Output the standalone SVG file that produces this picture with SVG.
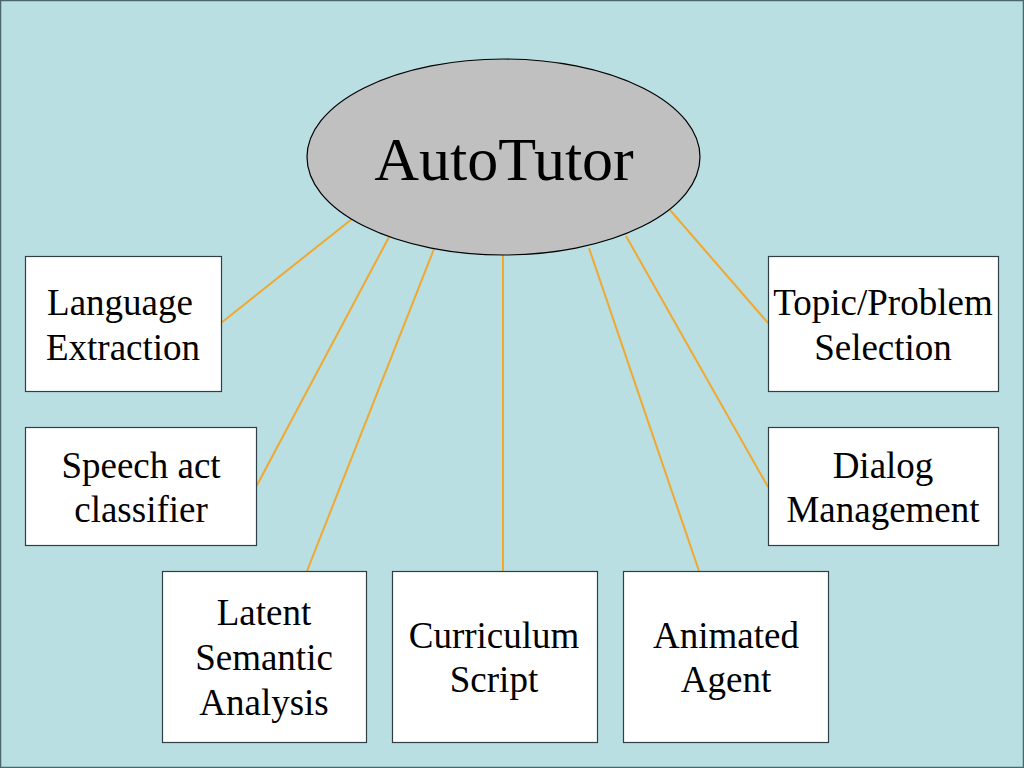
<svg xmlns="http://www.w3.org/2000/svg" width="1024" height="768" viewBox="0 0 1024 768">
<style>
.box{fill:#FFFFFF;stroke:#2F3F45;stroke-width:1.2}
.t{font-family:'Liberation Serif','Times New Roman',Times,serif;font-size:37px;fill:#000;text-anchor:middle}
.c{stroke:#F0A830;stroke-width:2;fill:none}
</style>
<rect x="0.5" y="0.5" width="1023" height="767" fill="#B9DFE2" stroke="#4A6670" stroke-width="1.5"/>
<g id="connectors">
<line class="c" x1="352" y1="219" x2="221" y2="323"/>
<line class="c" x1="389" y1="237" x2="256" y2="487"/>
<line class="c" x1="434" y1="249" x2="307" y2="571"/>
<line class="c" x1="503" y1="255" x2="503" y2="571"/>
<line class="c" x1="589" y1="248" x2="699" y2="571"/>
<line class="c" x1="626" y1="236" x2="768" y2="487"/>
<line class="c" x1="670" y1="210" x2="768" y2="323"/>
</g>
<g id="autotutor">
<ellipse cx="503.5" cy="157" rx="196.5" ry="98" fill="#C0C0C0" stroke="#000" stroke-width="1.2"/>
<text class="t" x="504" y="180" style="font-size:62px">AutoTutor</text>
</g>
<g id="language-extraction">
<rect class="box" x="25.5" y="256.5" width="196" height="135"/>
<text class="t" x="120" y="315">Language</text>
<text class="t" x="123" y="360">Extraction</text>
</g>
<g id="topic-problem-selection">
<rect class="box" x="768.5" y="256.5" width="230" height="135"/>
<text class="t" x="883" y="315">Topic/Problem</text>
<text class="t" x="883" y="360">Selection</text>
</g>
<g id="speech-act-classifier">
<rect class="box" x="25.5" y="427.5" width="231" height="118"/>
<text class="t" x="141" y="478">Speech act</text>
<text class="t" x="141" y="522">classifier</text>
</g>
<g id="dialog-management">
<rect class="box" x="768.5" y="427.5" width="230" height="118"/>
<text class="t" x="883" y="478">Dialog</text>
<text class="t" x="883" y="522">Management</text>
</g>
<g id="latent-semantic-analysis">
<rect class="box" x="162.5" y="571.5" width="204" height="171"/>
<text class="t" x="264" y="625">Latent</text>
<text class="t" x="264" y="670">Semantic</text>
<text class="t" x="264" y="715">Analysis</text>
</g>
<g id="curriculum-script">
<rect class="box" x="392.5" y="571.5" width="205" height="171"/>
<text class="t" x="494" y="648">Curriculum</text>
<text class="t" x="494" y="692">Script</text>
</g>
<g id="animated-agent">
<rect class="box" x="623.5" y="571.5" width="205" height="171"/>
<text class="t" x="726" y="648">Animated</text>
<text class="t" x="726" y="692">Agent</text>
</g>
</svg>
